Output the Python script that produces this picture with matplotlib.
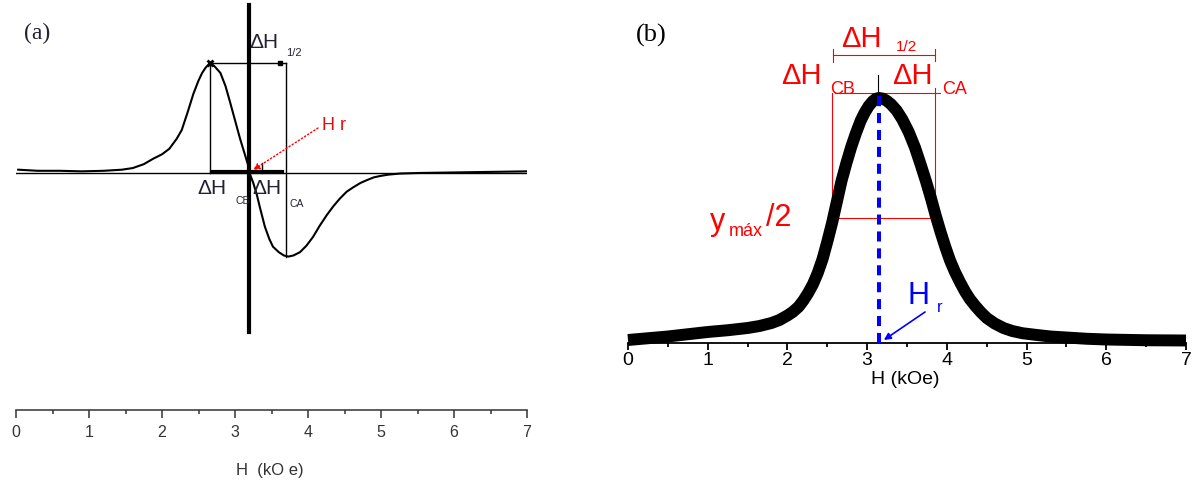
import matplotlib
matplotlib.use("Agg")
import matplotlib.pyplot as plt
from matplotlib.ticker import MultipleLocator

W, H = 1198, 484
plt.rcParams['font.family'] = ['Liberation Sans', 'DejaVu Sans']

# ---------------- data ----------------
# Panel (a): derivative EPR/FMR signal (arb. units, peak = 1)
h_a = [0.03, 0.3, 0.6, 0.9, 1.2, 1.45, 1.6, 1.75, 1.88, 2.0, 2.1, 2.2, 2.27, 2.35,
       2.43, 2.5, 2.55, 2.6, 2.66, 2.72, 2.8, 2.87, 2.93, 3.0, 3.07, 3.13, 3.18, 3.21,
       3.25, 3.3, 3.34, 3.41, 3.47, 3.52, 3.6, 3.67, 3.73, 3.8, 3.89, 3.98, 4.07, 4.16,
       4.26, 4.35, 4.44, 4.53, 4.62, 4.72, 4.81, 4.9, 4.99, 5.1, 5.26, 5.5, 6.0, 6.5, 7.0]
y_a = [0.03, 0.02, 0.02, 0.015, 0.02, 0.03, 0.045, 0.08, 0.13, 0.17, 0.22, 0.31, 0.39, 0.55,
       0.72, 0.84, 0.91, 0.96, 1.0, 0.97, 0.91, 0.79, 0.65, 0.48, 0.31, 0.18, 0.07, -0.02,
       -0.09, -0.2, -0.31, -0.49, -0.6, -0.67, -0.72, -0.75, -0.76, -0.75, -0.72, -0.66, -0.58, -0.48,
       -0.38, -0.30, -0.23, -0.17, -0.13, -0.09, -0.064, -0.04, -0.027, -0.015, -0.005, 0.0, 0.005, 0.01, 0.015]

# Panel (b): absorption line (peak ~ 1)
h_b = [0.0, 0.25, 0.5, 0.75, 1.0, 1.25, 1.5, 1.65, 1.8, 1.9, 2.0, 2.07, 2.14, 2.2, 2.26,
       2.32, 2.38, 2.44, 2.5, 2.56, 2.62, 2.68, 2.74, 2.80, 2.86, 2.92, 2.97, 3.02, 3.07,
       3.11, 3.15, 3.2, 3.25, 3.3, 3.37, 3.44, 3.52, 3.60, 3.67, 3.74, 3.80, 3.86, 3.92,
       3.98, 4.04, 4.1, 4.17, 4.23, 4.29, 4.36, 4.43, 4.5, 4.6, 4.71, 4.82, 4.95, 5.13,
       5.3, 5.5, 5.75, 6.0, 6.5, 7.0]
y_b = [0.012, 0.019, 0.026, 0.035, 0.044, 0.051, 0.06, 0.068, 0.08, 0.092, 0.11, 0.125, 0.145, 0.17, 0.2,
       0.235, 0.28, 0.335, 0.405, 0.48, 0.565, 0.65, 0.72, 0.784, 0.84, 0.89, 0.922, 0.948, 0.967,
       0.977, 0.98, 0.977, 0.968, 0.955, 0.93, 0.895, 0.845, 0.782, 0.715, 0.645, 0.58, 0.51, 0.445,
       0.385, 0.33, 0.285, 0.24, 0.205, 0.175, 0.147, 0.122, 0.10, 0.078, 0.06, 0.048, 0.039, 0.032,
       0.026, 0.022, 0.017, 0.014, 0.011, 0.01]

ticks = [0, 1, 2, 3, 4, 5, 6, 7]
tick_labels = ['0', '1', '2', '3', '4', '5', '6', '7']

# panel (a) markers
hr_a = 3.19
hpk_a, hmin_a = 2.66, 3.70
# panel (b) markers
hr_b = 3.15
hcb_b, hca_b = 2.56, 3.85

fig = plt.figure(figsize=(W / 100, H / 100), dpi=100)


def ptxt(x, y, s, size, color='black', ha='left', va='center', **kw):
    fig.text(x / W, 1 - y / H, s, fontsize=size, color=color, ha=ha, va=va, **kw)


def style_axis(ax, lw, maj, mino, lsize, lcolor, pad):
    for sp in ['top', 'left', 'right']:
        ax.spines[sp].set_visible(False)
    ax.spines['bottom'].set_linewidth(lw)
    ax.spines['bottom'].set_color(lcolor)
    ax.set_xlim(0, 7)
    ax.set_xticks(ticks)
    ax.set_xticklabels(tick_labels)
    ax.xaxis.set_minor_locator(MultipleLocator(0.5))
    ax.tick_params(axis='x', which='major', direction='out', length=maj, width=lw,
                   labelsize=lsize, labelcolor=lcolor, color=lcolor, pad=pad)
    ax.tick_params(axis='x', which='minor', direction='out', length=mino, width=lw, color=lcolor)
    ax.set_yticks([])
    ax.patch.set_alpha(0)


# ---------------- panel (a) ----------------
axa = fig.add_axes([16 / W, (H - 410) / H, 511 / W, 410 / H])
style_axis(axa, 1.1, 5.5, 3.0, 11.5, '#333333', 5.5)
axa.set_ylim(-2.155, 1.573)
dark = '#222233'
axa.plot([0, 7], [0, 0], color='black', lw=1.0)
axa.plot(h_a, y_a, color='black', lw=1.5, solid_joinstyle='round')
axa.plot([hr_a, hr_a], [-1.45, 1.53], color='black', lw=3.0)
axa.plot([2.68, 3.64], [0.01, 0.01], color='black', lw=3.0)
axa.plot([hpk_a, hpk_a], [0, 1.0], color='black', lw=1.0)
axa.plot([hmin_a, hmin_a], [-0.76, 1.0], color='black', lw=1.0)
axa.plot([hpk_a, hmin_a], [1.0, 1.0], color='black', lw=1.0)
axa.plot([3.62], [1.0], marker='s', ms=3, color='black')
axa.plot([hpk_a], [1.0], marker='x', ms=5, mew=2, color='black')
axa.plot([3.37, 3.37], [0, 0.09], color='black', lw=1.0)
axa.annotate('', xy=(3.247, 0.027), xytext=(4.137, 0.409),
             arrowprops=dict(arrowstyle='-|>', color='red', lw=1.0, linestyle=':',
                             mutation_scale=10, shrinkA=0, shrinkB=0))

ptxt(24, 33, '(a)', 17, color=dark, family='Liberation Serif')
ptxt(249, 42, 'ΔH', 15, color=dark)
ptxt(286, 53, '1/2', 8, color=dark)
ptxt(322, 125, 'H r', 13, color='#dd1111')
ptxt(197, 189, 'ΔH', 15, color=dark)
ptxt(236, 201, 'CB', 7.5, color=dark)
ptxt(252, 189, 'ΔH', 15, color=dark)
ptxt(290, 204, 'CA', 7.5, color=dark)
ptxt(270, 470, 'H  (kO e)', 12, color='#333333', ha='center')

# ---------------- panel (b) ----------------
axb = fig.add_axes([628 / W, (H - 343) / H, 558 / W, 343 / H])
style_axis(axb, 1.3, 5.0, 3.0, 14, 'black', 1.5)
axb.set_ylim(0, 1.372)
axb.plot(h_b, y_b, color='black', lw=8.6, solid_joinstyle='round', solid_capstyle='butt',
         clip_on=False, zorder=3)
axb.plot([hr_b, hr_b], [0, 1.0], color='#0000ff', lw=2.9, dashes=(2.5, 1.7), zorder=4)
axb.plot([3.13, 3.13], [1.0, 1.072], color='black', lw=0.8)
red = '#ff0000'
axb.plot([hcb_b, hcb_b], [0.5, 1.0], color=red, lw=0.8)
axb.plot([hca_b, hca_b], [0.5, 1.02], color=red, lw=0.8)
axb.plot([2.6, 3.91], [1.0, 1.0], color=red, lw=0.8)
axb.plot([hcb_b, 3.80], [0.5, 0.5], color=red, lw=0.8)
axb.plot([2.57, 3.85], [1.152, 1.152], color=red, lw=0.8, clip_on=False)
axb.plot([2.57, 2.57], [1.125, 1.175], color=red, lw=0.8, clip_on=False)
axb.plot([3.85, 3.85], [1.13, 1.175], color=red, lw=0.8, clip_on=False)
axb.annotate('', xy=(3.21, 0.012), xytext=(3.726, 0.124),
             arrowprops=dict(arrowstyle='-|>', color='#0000ff', lw=1.2,
                             mutation_scale=10, shrinkA=0, shrinkB=0))

ptxt(636, 35, '(b)', 19, family='Liberation Serif')
ptxt(841, 39, 'ΔH', 21, color=red)
ptxt(896, 47, '1/2', 11, color=red)
ptxt(781, 76, 'ΔH', 21, color=red)
ptxt(830, 89, 'CB', 13, color=red)
ptxt(892, 76, 'ΔH', 21, color=red)
ptxt(942, 89, 'CA', 13, color=red)
ptxt(710, 222, 'y', 22, color=red)
ptxt(729, 232, 'máx', 13, color=red)
ptxt(766, 218, '/2', 22, color=red)
ptxt(908, 296, 'H', 22, color='#0000ff')
ptxt(937, 308, 'r', 12, color='#0000ff')
ptxt(905, 380, 'H (kOe)', 14, ha='center')

fig.savefig('out.png', dpi=100)
